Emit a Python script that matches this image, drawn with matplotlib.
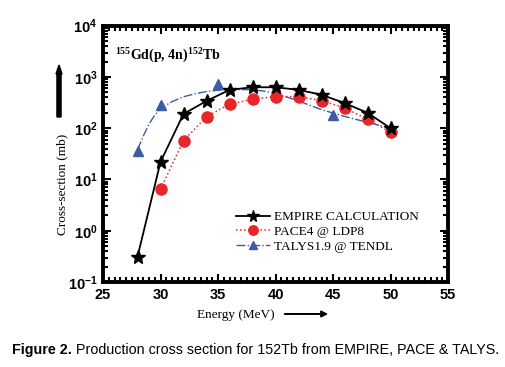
import numpy as np
from matplotlib import pyplot as plt
from matplotlib.ticker import MultipleLocator, LogLocator, NullFormatter

plt.rcParams['mathtext.fontset'] = 'custom'
plt.rcParams['mathtext.rm'] = 'Liberation Serif:bold'
plt.rcParams['mathtext.sf'] = 'Liberation Sans:bold'

# EMPIRE calculation
e_empire = [28, 30, 32, 34, 36, 38, 40, 42, 44, 46, 48, 50]
xs_empire = [0.31, 22, 190, 340, 560, 630, 630, 560, 450, 310, 200, 100]

# PACE4 @ LDP8
e_pace = [30, 32, 34, 36, 38, 40, 42, 44, 46, 48, 50]
xs_pace = [6.5, 57, 168, 295, 367, 415, 415, 345, 250, 150, 83]

# TALYS1.9 @ TENDL points
e_talys = [28, 30, 35, 40, 45, 50]
xs_talys = [36, 285, 720, 440, 185, 102]

# TALYS fitted curve
e_talys_fit = [28, 28.5, 29, 29.5, 30, 31, 32, 33, 34, 35, 36, 37, 38, 39, 40, 42, 44, 46, 48, 50]
xs_talys_fit = [38, 70, 120, 180, 240, 330, 410, 470, 520, 550, 565, 570, 560, 530, 480, 340, 230, 170, 130, 100]

xticks = [25, 30, 35, 40, 45, 50, 55]
yticks = [1e-1, 1e0, 1e1, 1e2, 1e3, 1e4]
ytick_labels = [r'$\mathsf{10^{-1}}$', r'$\mathsf{10^{0}}$', r'$\mathsf{10^{1}}$',
                r'$\mathsf{10^{2}}$', r'$\mathsf{10^{3}}$', r'$\mathsf{10^{4}}$']

W, H = 505, 367
fig = plt.figure(figsize=(W/100, H/100), dpi=100)
ax = fig.add_axes([103/W, 1-282/H, (448-103)/W, (282-25.7)/H])

red = '#e8262a'
blue = '#3d5aa8'

ax.plot(e_empire, xs_empire, '-', color='black', lw=1.3, marker='*', ms=10,
        label='EMPIRE CALCULATION', zorder=4)
ax.plot(e_pace, xs_pace, ':', color=red, lw=1.1, marker='o', ms=8, mec=red,
        label='PACE4 @ LDP8', zorder=3)
ax.plot(e_talys_fit, xs_talys_fit, '-.', color=blue, lw=1.0, zorder=2)
ax.plot(e_talys, xs_talys, '^', color=blue, ms=7, ls='none', zorder=2)
# legend proxy for TALYS
ax.plot([], [], '-.', color=blue, lw=1.0, marker='^', ms=7, label='TALYS1.9 @ TENDL')

ax.set_yscale('log')
ax.set_xlim(25, 55)
ax.set_ylim(1e-1, 1e4)
ax.set_xticks(xticks)
ax.set_xticklabels([str(t) for t in xticks], fontfamily='Liberation Sans',
                   fontweight='bold', fontsize=10.5)
ax.xaxis.set_minor_locator(MultipleLocator(0.5))
ax.set_yticks(yticks)
ax.set_yticklabels(ytick_labels, fontsize=10.5)
ax.yaxis.set_minor_locator(LogLocator(base=10, subs=np.arange(2, 10), numticks=20))
ax.yaxis.set_minor_formatter(NullFormatter())

ax.tick_params(which='both', direction='in', top=True, right=True, width=1.5)
ax.tick_params(which='major', length=6, pad=4)
ax.tick_params(which='minor', length=3.5)
for s in ax.spines.values():
    s.set_linewidth(2.8)

ax.text(0.035, 0.925, r'$^{155}$Gd(p, 4n)$^{152}$Tb', transform=ax.transAxes,
        fontfamily='Liberation Serif', fontweight='bold', fontsize=10, va='top')

ax.legend(loc='upper left', bbox_to_anchor=(236/W, 1-211/H), bbox_transform=fig.transFigure,
          frameon=False, borderpad=0, borderaxespad=0, handlelength=2.6,
          handletextpad=0.3, labelspacing=0.2, markerscale=0.85,
          prop={'family': 'Liberation Serif', 'size': 9.5})

# axis labels with arrows
fig.text(62/W, 1-184/H, 'Cross-section (mb)', rotation=90, ha='center', va='center',
         fontfamily='Liberation Serif', fontsize=9.5)
fig.text(236/W, 1-315/H, 'Energy (MeV)', ha='center', va='center',
         fontfamily='Liberation Serif', fontsize=9.5)
fig.patches.append(plt.matplotlib.patches.FancyArrow(
    59/W, 1-117/H, 0, 52/H, width=3/H, head_width=6/W, head_length=9/H,
    length_includes_head=True, color='black', transform=fig.transFigure, figure=fig))
ax.annotate('', xy=(331/W, 1-314/H), xytext=(282/W, 1-314/H), xycoords='figure fraction',
            textcoords='figure fraction',
            arrowprops=dict(arrowstyle='-|>', color='black', lw=1.4, mutation_scale=9))

# caption: bold lead-in followed by regular text, fitted to the reference width
cap_font = 'Liberation Sans'
cap_size = 11
t1 = fig.text(12/W, 1-350/H, 'Figure 2.', fontfamily=cap_font,
              fontweight='bold', fontsize=cap_size, va='center', ha='left')
fig.canvas.draw()
bb = t1.get_window_extent()
t2 = fig.text((bb.x1 + 4)/W, 1-350/H, 'Production cross section for 152Tb from EMPIRE, PACE & TALYS.',
              fontfamily=cap_font, fontsize=cap_size, va='center', ha='left')
fig.canvas.draw()
scale = (497 - 12) / (t2.get_window_extent().x1 - 12)
cap_size = cap_size * scale
t1.set_fontsize(cap_size)
t2.set_fontsize(cap_size)
fig.canvas.draw()
t2.set_x((t1.get_window_extent().x1 + 4)/W)

fig.savefig('out.png', dpi=100)
